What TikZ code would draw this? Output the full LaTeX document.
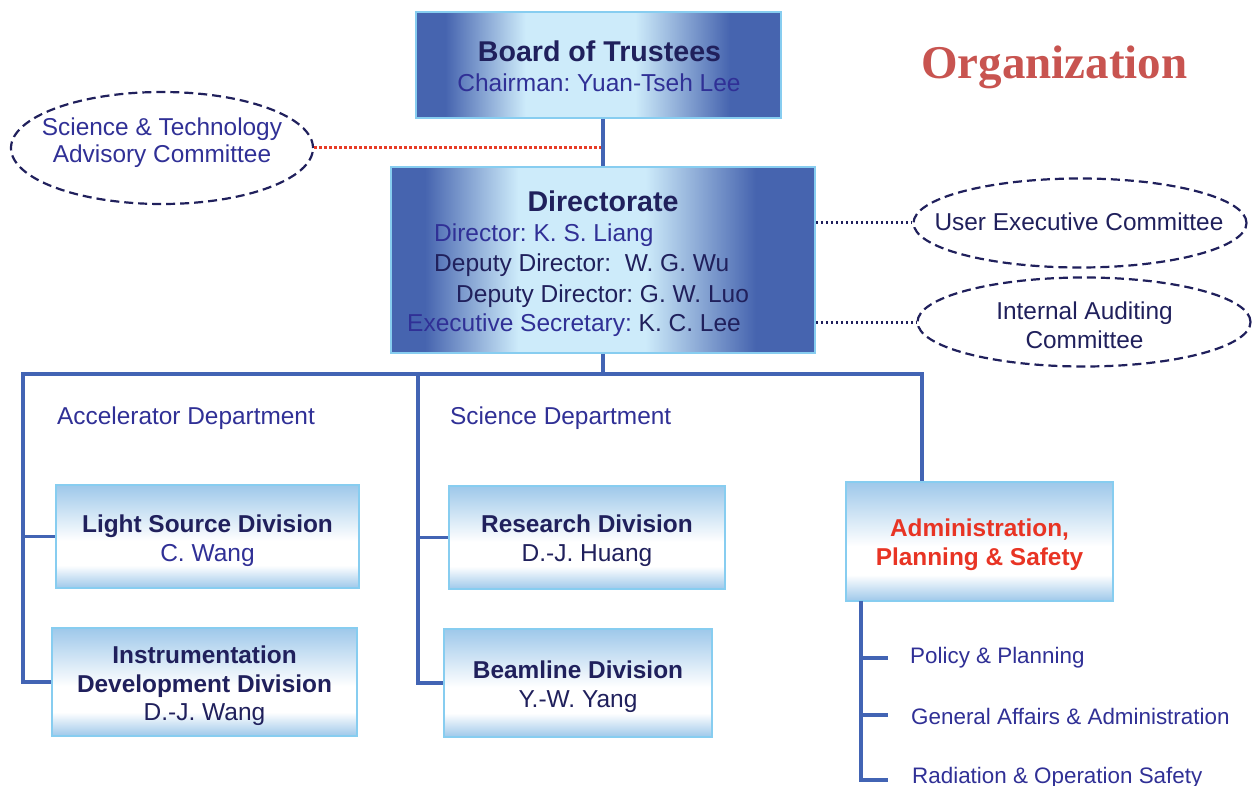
\documentclass[tikz,border=0pt]{standalone}
\usepackage{fontspec}
\setmainfont{Liberation Sans}
\newfontfamily\titlefont{Liberation Serif}
\usetikzlibrary{shapes.geometric}
\definecolor{dkblue}{RGB}{70,100,175}
\definecolor{ltcyan}{RGB}{205,235,250}
\definecolor{divblue}{RGB}{158,200,234}
\definecolor{divborder}{RGB}{135,205,240}
\definecolor{linecol}{RGB}{66,100,180}
\definecolor{navy}{RGB}{32,32,92}
\definecolor{midblue}{RGB}{48,48,150}
\definecolor{redtxt}{RGB}{232,52,36}
\definecolor{titlered}{RGB}{200,84,80}
\definecolor{reddot}{RGB}{232,60,40}
\pgfdeclarehorizontalshading{bigshade}{100bp}{color(0bp)=(dkblue); color(29bp)=(dkblue); color(40bp)=(ltcyan); color(55bp)=(ltcyan); color(68bp)=(dkblue); color(100bp)=(dkblue)}
\pgfdeclareverticalshading{divshade}{100bp}{color(0bp)=(divblue); color(25bp)=(divblue); color(36bp)=(white); color(48bp)=(white); color(75bp)=(divblue); color(100bp)=(divblue)}
\tikzset{
  bigbox/.style={draw=divborder, line width=1.5pt, shading=bigshade, rectangle, inner sep=0pt},
  divbox/.style={draw=divborder, line width=1.8pt, shading=divshade, rectangle, inner sep=0pt},
  commell/.style={ellipse, draw=navy, line width=2.2pt, dash pattern=on 9pt off 5pt, inner sep=0pt},
  txtc/.style={inner sep=0pt, anchor=base},
  txtw/.style={inner sep=0pt, anchor=base west},
  headtxt/.style={font=\fontsize{28.6}{32}\selectfont\bfseries, text=navy},
  divtxt/.style={font=\fontsize{24.4}{28}\selectfont\bfseries, text=navy},
  nametxt/.style={font=\fontsize{24.5}{28}\selectfont, text=navy},
  commtxt/.style={font=\fontsize{24.4}{28}\selectfont, text=navy},
  deptxt/.style={font=\fontsize{24.4}{27}\selectfont, text=midblue},
  subtxt/.style={font=\fontsize{22.4}{26}\selectfont, text=midblue},
  connline/.style={draw=linecol, line width=3.4pt},
  dotnavy/.style={draw=navy, line width=3pt, dash pattern=on 2.6pt off 2.4pt},
  dotred/.style={draw=reddot, line width=3pt, dash pattern=on 2.6pt off 2.4pt}
}
\begin{document}
\frenchspacing
\begin{tikzpicture}[x=1pt,y=-1pt]
\useasboundingbox[fill=white] (0,0) rectangle (1252,786);

% title
\node[txtw, font=\titlefont\fontsize{47}{52}\selectfont\bfseries, text=titlered] (title) at (921,79) {Organization};

\coordinate (busL) at (23,374);
\coordinate (busM) at (418,374);
\coordinate (busR) at (922,374);
\coordinate (busC) at (603,374);
\coordinate (redend) at (601,148);

% boxes
\node[bigbox, minimum width=365pt, minimum height=106pt] (board) at (598.5,65) {};
\node[bigbox, minimum width=424pt, minimum height=186pt] (dir) at (603,260) {};

\node[divbox, minimum width=303pt, minimum height=103pt] (lsd) at (207.5,536.5) {};
\node[divbox, minimum width=305pt, minimum height=108pt] (idd) at (204.5,682) {};
\node[divbox, minimum width=276pt, minimum height=103pt] (res) at (587,537.5) {};
\node[divbox, minimum width=268pt, minimum height=108pt] (beam) at (578,683) {};
\node[divbox, minimum width=267pt, minimum height=119pt] (admin) at (979.5,541.5) {};

% ellipses
\node[commell, minimum width=302pt, minimum height=112pt] (sci) at (162,148) {};
\node[commell, minimum width=333pt, minimum height=89pt] (uec) at (1080,223) {};
\node[commell, minimum width=333pt, minimum height=89pt] (iac) at (1084,322) {};

% lines
\draw[connline] (dir.north |- board.south) -- (dir.north);
\draw[dotred] (sci.east) -- (redend);
\draw[dotnavy] (dir.east |- uec.west) -- (uec.west);
\draw[dotnavy] (dir.east |- iac.west) -- (iac.west);
\draw[connline] (dir.south) -- (busC);
\draw[connline, line cap=rect] (busL) -- (busR);
\draw[connline] (busL) -- (busL |- idd.west) -- (idd.west);
\draw[connline] (busL |- lsd.west) -- (lsd.west);
\draw[connline] (busM) -- (busM |- beam.west) -- (beam.west);
\draw[connline] (busM |- res.west) -- (res.west);
\draw[connline] (busR) -- (busR |- admin.north);

% admin sub-structure
\coordinate (adm0) at (861,601);
\coordinate (adm1) at (861,658);
\coordinate (adm2) at (861,715);
\coordinate (adm3) at (861,780);
\coordinate (tk1) at (888,658);
\coordinate (tk2) at (888,715);
\coordinate (tk3) at (888,780);
\draw[connline] (adm0) -- (adm3) -- (tk3);
\draw[connline] (adm1) -- (tk1);
\draw[connline] (adm2) -- (tk2);

% texts: board
\node[txtc, headtxt] (boardt) at (599.5,62) {Board of Trustees};
\node[txtc, nametxt, text=midblue] (boardn) at (599,92) {Chairman: Yuan-Tseh Lee};

% directorate
\node[txtc, headtxt] (dirt) at (603,212) {Directorate};
\node[txtw, nametxt, text=midblue] (d1) at (434,242) {Director: K. S. Liang};
\node[txtw, nametxt] (d2) at (434,272) {Deputy Director:\ \ W. G. Wu};
\node[txtw, nametxt] (d3) at (456,302) {Deputy Director: G. W. Luo};
\node[txtw, nametxt] (d4) at (407,331) {\textcolor{midblue}{Executive Secretary:} K. C. Lee};

% committees
\node[txtc, commtxt, text=midblue] (sci1) at (162,136) {Science \& Technology};
\node[txtc, commtxt, text=midblue] (sci2) at (162,163) {Advisory Committee};
\node[txtc, commtxt] (uect) at (1079,231) {User Executive Committee};
\node[txtc, commtxt] (iac1) at (1084.5,319) {Internal Auditing};
\node[txtc, commtxt] (iac2) at (1084.5,348) {Committee};

% departments
\node[txtw, deptxt] (accd) at (57,424) {Accelerator Department};
\node[txtw, deptxt] (scid) at (450,424) {Science Department};

% divisions
\node[txtc, divtxt] (lsd1) at (207.5,532) {Light Source Division};
\node[txtc, nametxt, text=midblue] (lsd2) at (207.5,561) {C. Wang};
\node[txtc, divtxt] (idd1) at (204.5,663) {Instrumentation};
\node[txtc, divtxt] (idd2) at (204.5,692) {Development Division};
\node[txtc, nametxt] (idd3) at (204.5,720) {D.-J. Wang};
\node[txtc, divtxt] (res1) at (587,532) {Research Division};
\node[txtc, nametxt] (res2) at (587,561) {D.-J. Huang};
\node[txtc, divtxt] (beam1) at (578,678) {Beamline Division};
\node[txtc, nametxt] (beam2) at (578,707) {Y.-W. Yang};
\node[txtc, divtxt, text=redtxt] (adm1t) at (979.5,536) {Administration,};
\node[txtc, divtxt, text=redtxt] (adm2t) at (979.5,565) {Planning \& Safety};

% admin sub items
\node[txtw, subtxt] (s1) at (910,663) {Policy \& Planning};
\node[txtw, subtxt] (s2) at (911,724) {General Affairs \& Administration};
\node[txtw, subtxt] (s3) at (912,783) {Radiation \& Operation Safety};
\end{tikzpicture}
\end{document}
